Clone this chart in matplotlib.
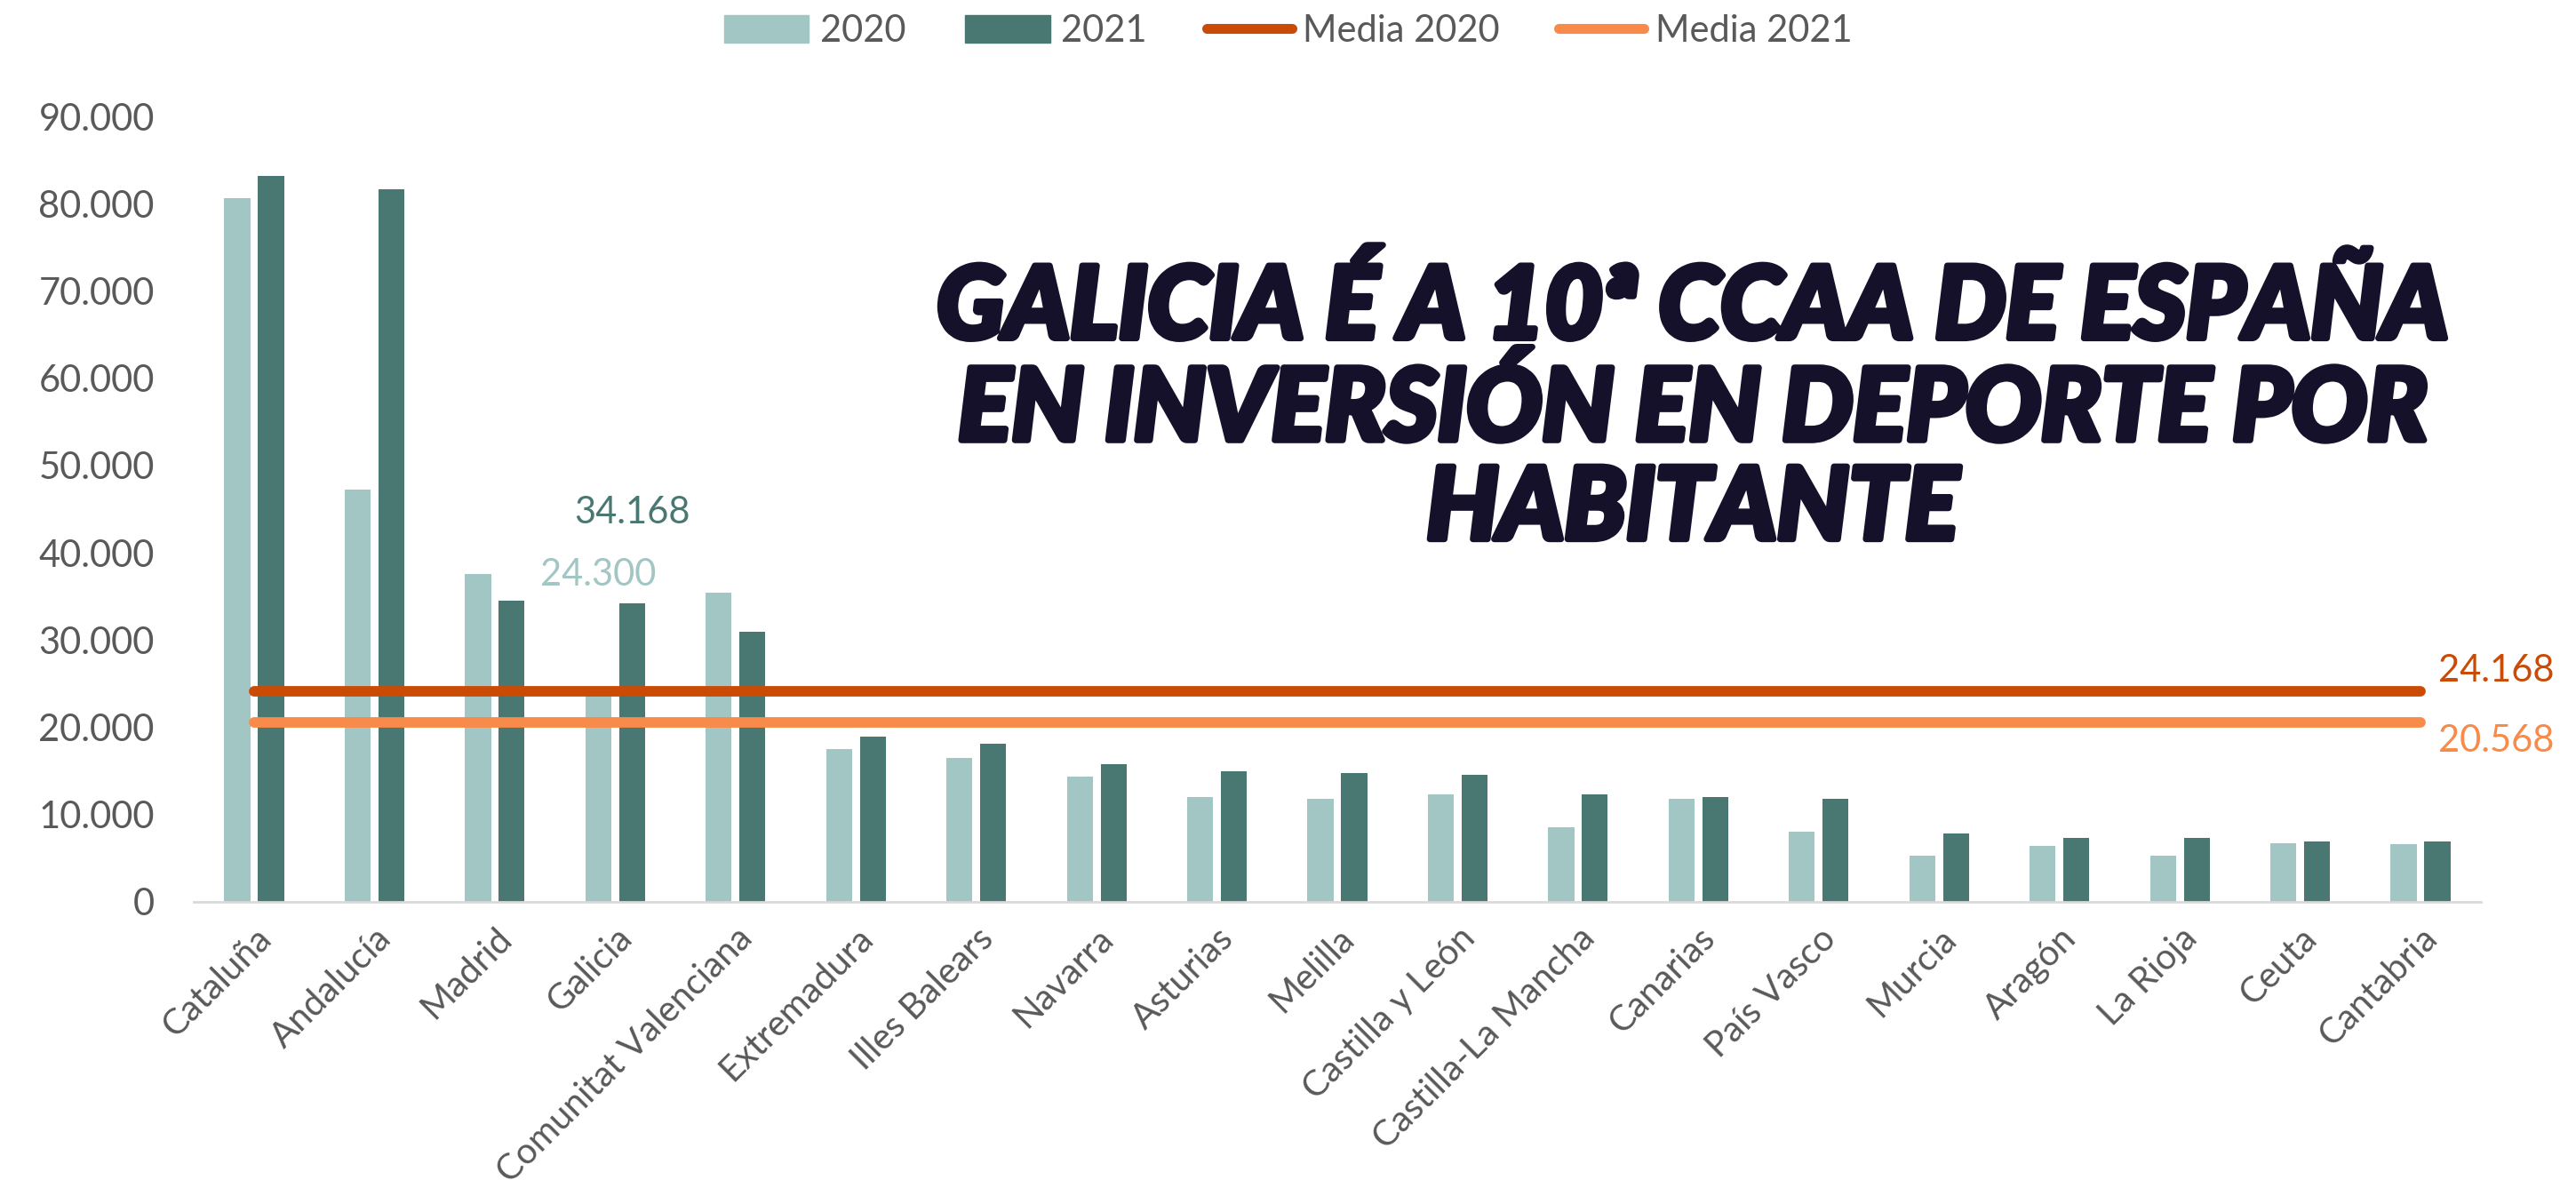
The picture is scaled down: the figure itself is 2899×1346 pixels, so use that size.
import matplotlib
matplotlib.use('Agg')
import matplotlib.pyplot as plt
import matplotlib.patheffects as pe
import numpy as np
from matplotlib.patches import Patch
from matplotlib.lines import Line2D
from matplotlib.ticker import FuncFormatter

plt.rcParams['font.family'] = ['Lato', 'DejaVu Sans']

# ------------------------------------------------------------
# datos
# ------------------------------------------------------------
regions = ['Cataluña', 'Andalucía', 'Madrid', 'Galicia', 'Comunitat Valenciana',
           'Extremadura', 'Illes Balears', 'Navarra', 'Asturias', 'Melilla',
           'Castilla y León', 'Castilla-La Mancha', 'Canarias', 'País Vasco',
           'Murcia', 'Aragón', 'La Rioja', 'Ceuta', 'Cantabria']
values_2020 = [80700, 47200, 37600, 24300, 35400, 17500, 16500, 14300, 12000, 11800,
               12300, 8500, 11800, 8050, 5300, 6400, 5300, 6700, 6650]
values_2021 = [83200, 81700, 34500, 34168, 31000, 18900, 18100, 15800, 15000, 14800,
               14600, 12300, 12000, 11800, 7850, 7300, 7300, 6900, 6900]
media_2020 = 24168
media_2021 = 20568
yticks = [0, 10000, 20000, 30000, 40000, 50000, 60000, 70000, 80000, 90000]

title = 'GALICIA É A 10ª CCAA DE ESPAÑA\nEN INVERSIÓN EN DEPORTE POR\nHABITANTE'

c2020 = '#a2c6c3'
c2021 = '#497873'
cm2020 = '#c94b06'
cm2021 = '#f88a4a'
grey = '#595959'
navy = '#15112a'


def fmt_es(v, pos=None):
    return f'{int(v):,}'.replace(',', '.')


fig = plt.figure(figsize=(28.99, 13.46), dpi=100)
ax = fig.add_axes([0.0753, 0.246, 0.963 - 0.0753, 0.9025 - 0.246])

x = np.arange(len(regions))
w = 0.215
off = 0.14
ax.bar(x - off, values_2020, width=w, color=c2020, zorder=2)
ax.bar(x + off, values_2021, width=w, color=c2021, zorder=2)

# medias
last = len(regions) - 1
ax.plot([0, last], [media_2020, media_2020], color=cm2020, lw=8.5,
        solid_capstyle='round', zorder=3)
ax.plot([0, last], [media_2021, media_2021], color=cm2021, lw=8.5,
        solid_capstyle='round', zorder=3)
ax.text(last + 0.15, media_2020 + 2300, fmt_es(media_2020), color=cm2020,
        fontsize=30, ha='left', va='center')
ax.text(last + 0.15, media_2021 - 2100, fmt_es(media_2021), color=cm2021,
        fontsize=30, ha='left', va='center')

# etiquetas Galicia
gi = regions.index('Galicia')
ax.text(gi + off, values_2021[gi] + 10400, fmt_es(values_2021[gi]), color=c2021,
        fontsize=30, ha='center', va='center')
ax.text(gi - off, values_2020[gi] + 13200, fmt_es(values_2020[gi]), color=c2020,
        fontsize=30, ha='center', va='center')

ax.set_xlim(-0.5, len(regions) - 0.5)
ax.set_ylim(0, 90000)
ax.set_yticks(yticks)
ax.yaxis.set_major_formatter(FuncFormatter(fmt_es))
ax.set_xticks(x)
ax.set_xticklabels(regions, rotation=45, ha='right', va='top', rotation_mode='anchor')
ax.tick_params(axis='y', length=0, pad=32, labelsize=30, labelcolor=grey)
ax.tick_params(axis='x', length=0, pad=16, labelsize=29, labelcolor=grey)

for s in ['top', 'right', 'left']:
    ax.spines[s].set_visible(False)
ax.spines['bottom'].set_color('#d9d9d9')
ax.spines['bottom'].set_linewidth(2)

# leyenda
handles = [Patch(color=c2020, label='2020'),
           Patch(color=c2021, label='2021'),
           Line2D([], [], color=cm2020, lw=8, solid_capstyle='round', label='Media 2020'),
           Line2D([], [], color=cm2021, lw=8, solid_capstyle='round', label='Media 2021')]
leg = fig.legend(handles=handles, loc='upper center', bbox_to_anchor=(0.5, 1.016), ncol=4,
                 frameon=False, fontsize=30, handlelength=2.3, handleheight=0.75,
                 handletextpad=0.3, columnspacing=1.6)
for t in leg.get_texts():
    t.set_color(grey)

# título
fig.text(0.657, 0.6585, title, ha='center', va='center', multialignment='center',
         fontsize=81, fontweight='black', fontstyle='italic', color=navy,
         linespacing=1.1,
         path_effects=[pe.withStroke(linewidth=5, foreground=navy)])

fig.savefig('out.png', dpi=100)
